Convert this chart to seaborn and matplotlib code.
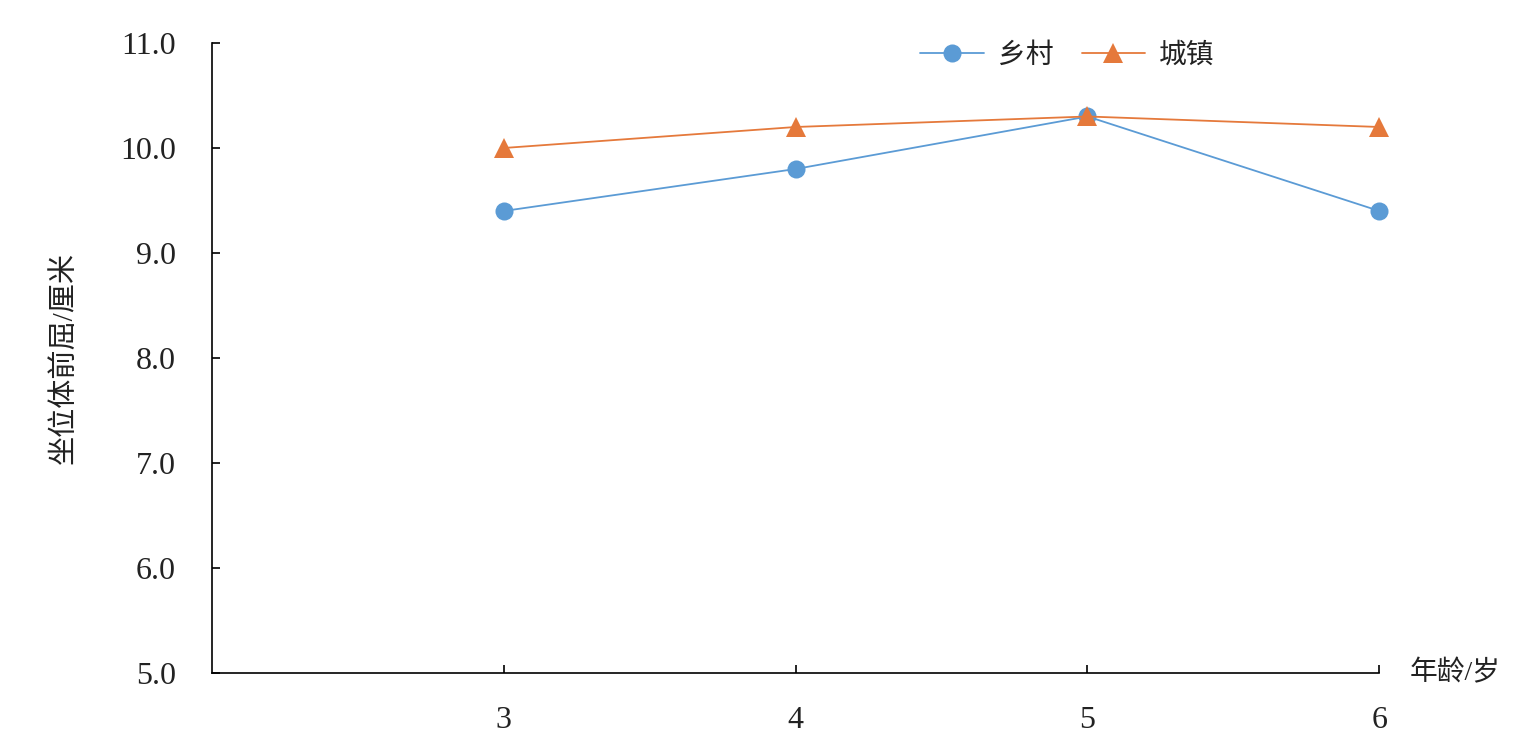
import pandas as pd
import matplotlib.pyplot as plt
import seaborn as sns

ages = [3, 4, 5, 6]
rural = [9.4, 9.8, 10.3, 9.4]
urban = [10.0, 10.2, 10.3, 10.2]
y_ticks = [5.0, 6.0, 7.0, 8.0, 9.0, 10.0, 11.0]

sns.set_style('white')
plt.rcParams['font.family'] = ['Liberation Serif', 'Noto Sans CJK SC']

fig = plt.figure(figsize=(15.36, 7.49), dpi=100)
ax = fig.add_axes([0.138, 0.1015, 0.76, 0.8411])

sns.lineplot(x=ages, y=rural, ax=ax, color='#5B9BD5', marker='o', markersize=13,
             markeredgewidth=0, linewidth=1.3, label='乡村', clip_on=False)
sns.lineplot(x=ages, y=urban, ax=ax, color='#E5793B', marker='^', markersize=14,
             markeredgewidth=0, linewidth=1.3, label='城镇', clip_on=False)

ax.set_xlim(2, 6)
ax.set_ylim(5, 11)
ax.set_xticks(ages)
ax.set_xticklabels([str(a) for a in ages])
ax.set_yticks(y_ticks)
ax.set_yticklabels([f'{v:.1f}' for v in y_ticks])

for side in ['top', 'right']:
    ax.spines[side].set_visible(False)
for side in ['left', 'bottom']:
    ax.spines[side].set_color('black')
    ax.spines[side].set_linewidth(1.2)

ax.tick_params(axis='both', direction='in', length=6, width=1.2, color='black',
               labelsize=23, labelcolor='#222222', bottom=True, left=True)
ax.tick_params(axis='y', pad=26)
ax.tick_params(axis='x', pad=24)

ax.set_ylabel('坐位体前屈/厘米', fontsize=21, color='#222222', labelpad=30)
ax.set_xlabel('')
ax.text(1.026, 0.0, '年龄/岁', transform=ax.transAxes, fontsize=20,
        color='#222222', va='center', ha='left')

ax.legend(loc='upper center', bbox_to_anchor=(0.733, 1.04), ncol=2, frameon=False,
          fontsize=20, handlelength=2.3, columnspacing=1.0, handletextpad=0.5,
          labelcolor='#222222')

plt.savefig('out.png', dpi=100)
